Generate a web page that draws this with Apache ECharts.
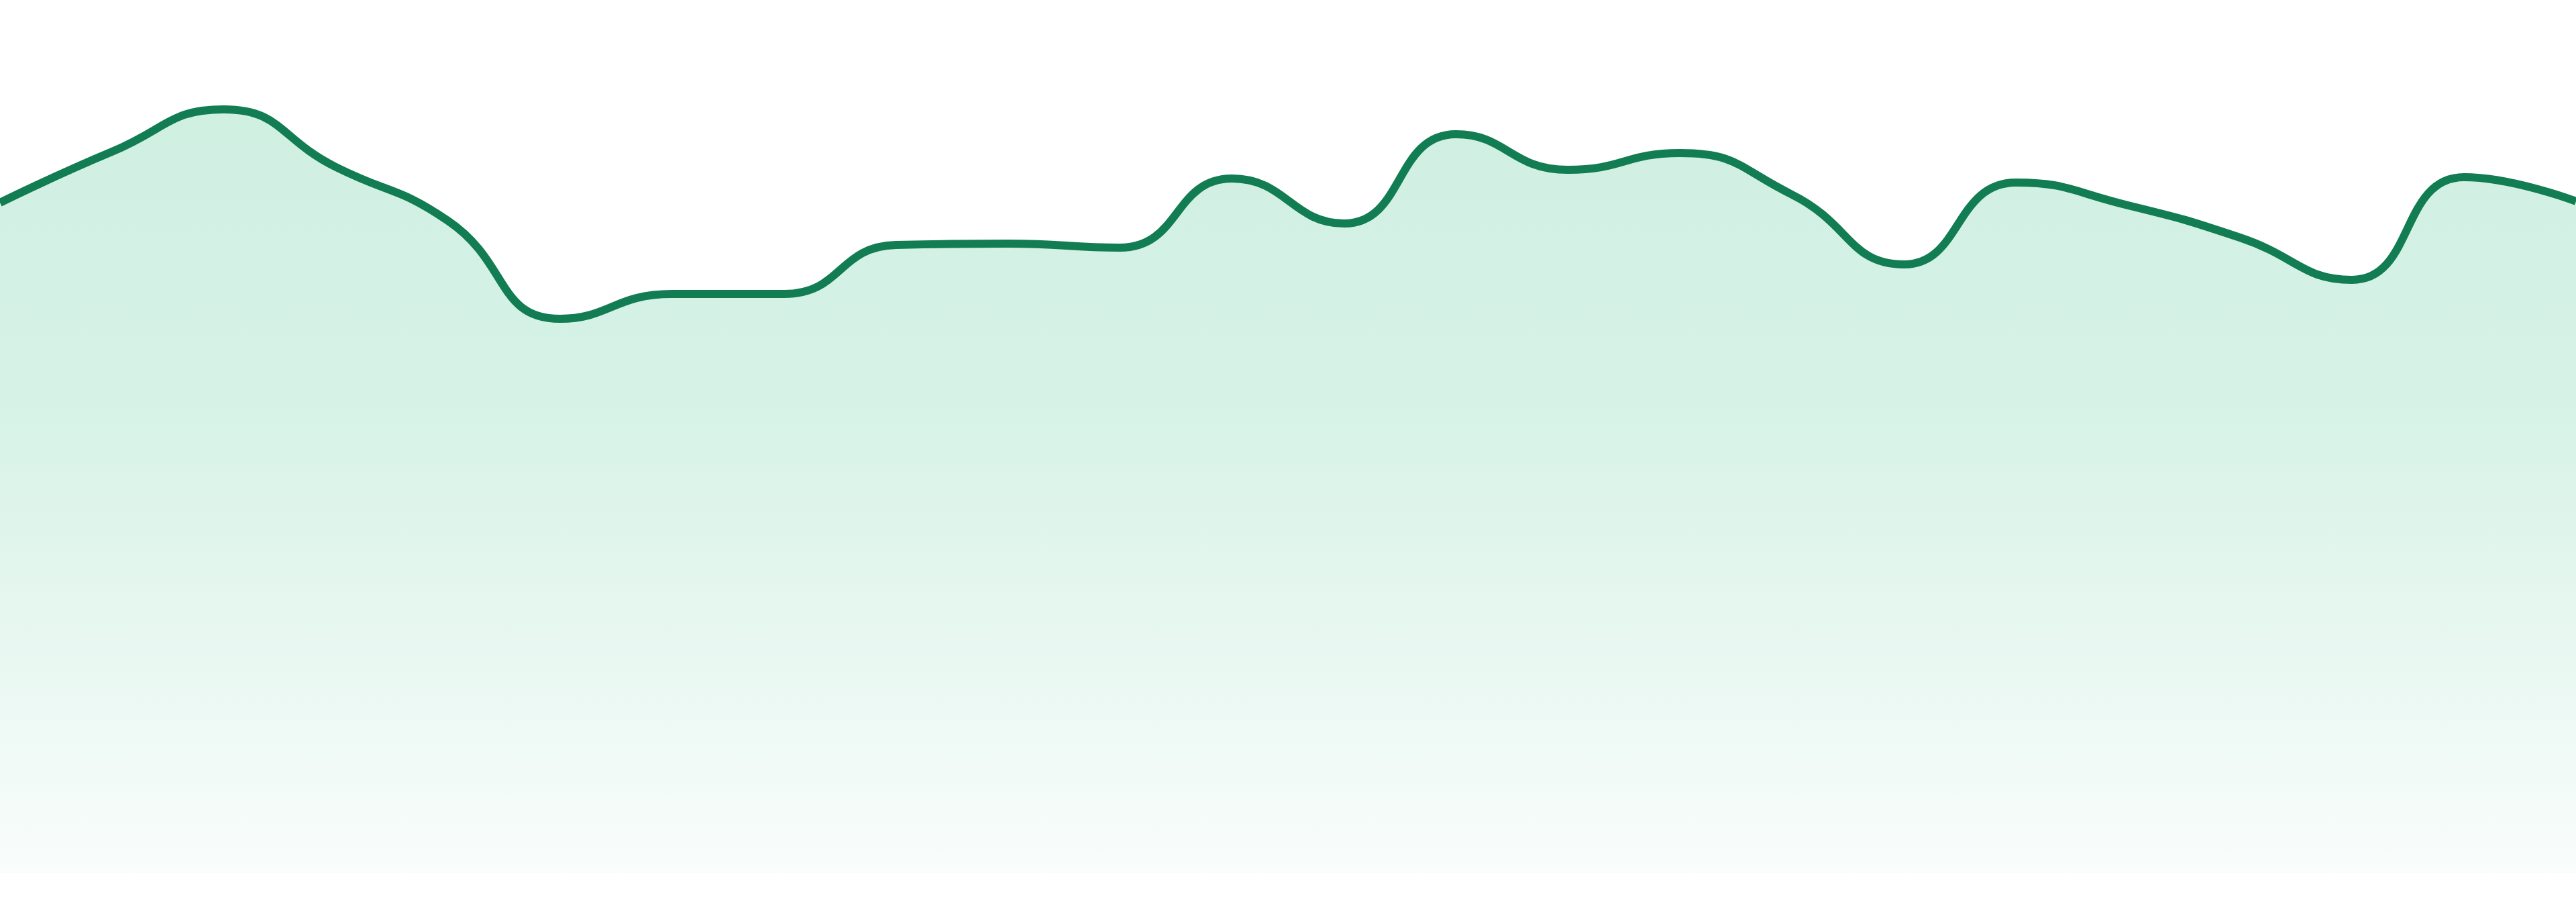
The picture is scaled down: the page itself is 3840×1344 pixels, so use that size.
<!DOCTYPE html>
<html>
<head>
<meta charset="utf-8">
<script src="https://cdn.jsdelivr.net/npm/echarts@6/dist/echarts.min.js"></script>
<style>
  html, body { margin: 0; padding: 0; background: #fff; }
  #chart { width: 3840px; height: 1344px; }
</style>
</head>
<body>
<div id="chart"></div>
<script>
    'use strict';

    // one value per point
    const categories = [
        'P1', 'P2', 'P3', 'P4', 'P5', 'P6', 'P7', 'P8', 'P9', 'P10', 'P11', 'P12',
        'P13', 'P14', 'P15', 'P16', 'P17', 'P18', 'P19', 'P20', 'P21', 'P22', 'P23', 'P24'
    ];
    const values = [
        99.9, 107.5, 113.8, 105.2, 97.2, 82.6, 86.3, 86.3, 93.6, 93.8, 93.2, 103.5,
        96.8, 110.1, 104.8, 107.3, 101.1, 90.7, 102.9, 99.5, 94.7, 88.4, 103.7, 100.1
    ];
    const yMin = 0;
    const yMax = 130.1;

    const chart = echarts.init(document.getElementById('chart'));

    const options = {
        animation: false,
        grid: { left: 0, right: 0, top: 0, bottom: 43 },
        xAxis: {
            type: 'category',
            data: categories,
            boundaryGap: false,
            show: false
        },
        yAxis: {
            type: 'value',
            min: yMin,
            max: yMax,
            show: false
        },
        series: [{
            type: 'line',
            data: values,
            smooth: true,
            symbol: 'none',
            lineStyle: { color: '#127c53', width: 12 },
            areaStyle: {
                color: new echarts.graphic.LinearGradient(0, 0, 0, 1, [
                    { offset: 0, color: '#bae8d4' },
                    { offset: 0.4, color: '#c5ecdc' },
                    { offset: 1, color: '#f6fbf9' }
                ])
            }
        }]
    };

    chart.setOption(options);
</script>
</body>
</html>
